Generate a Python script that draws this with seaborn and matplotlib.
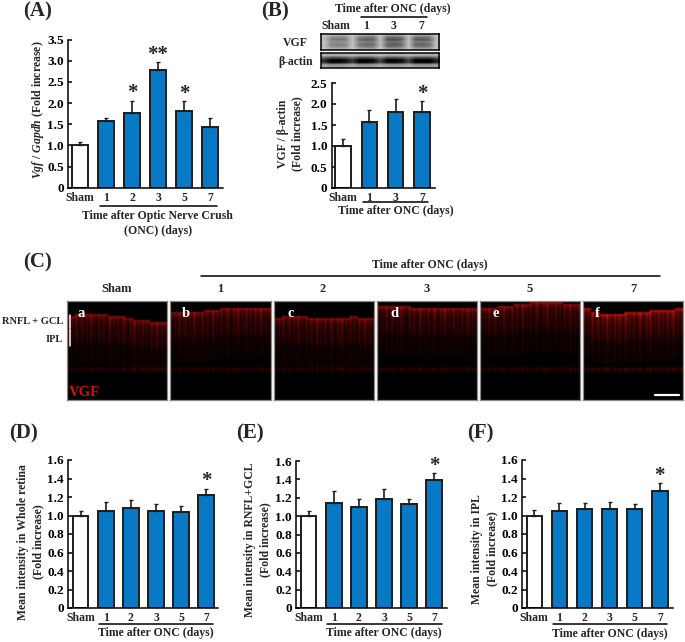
import numpy as np
import pandas as pd
import matplotlib
matplotlib.use('Agg')
import matplotlib.pyplot as plt
from matplotlib.colors import LinearSegmentedColormap
from matplotlib.lines import Line2D
import seaborn as sns

sns.set_style('white')
plt.rcParams['font.family'] = ['Liberation Serif', 'DejaVu Serif']
plt.rcParams['font.weight'] = 'bold'
plt.rcParams['mathtext.fontset'] = 'custom'
plt.rcParams['mathtext.rm'] = 'Liberation Serif:bold'
plt.rcParams['mathtext.it'] = 'Liberation Serif:italic:bold'

# bar values and top of the error bars
labels_a = ['Sham', '1', '2', '3', '5', '7']
values_a = [1.0, 1.57, 1.77, 2.78, 1.82, 1.44]
tops_a = [1.08, 1.66, 2.06, 2.97, 2.05, 1.65]
stars_a = ['', '', '*', '**', '*', '']

labels_b = ['Sham', '1', '3', '7']
values_b = [1.0, 1.56, 1.80, 1.80]
tops_b = [1.16, 1.85, 2.11, 2.07]
stars_b = ['', '', '', '*']

values_d = [1.0, 1.05, 1.08, 1.05, 1.04, 1.22]
tops_d = [1.05, 1.15, 1.17, 1.12, 1.10, 1.29]

values_e = [1.0, 1.14, 1.10, 1.19, 1.13, 1.39]
tops_e = [1.06, 1.27, 1.19, 1.29, 1.19, 1.47]

values_f = [1.0, 1.05, 1.065, 1.075, 1.065, 1.27]
tops_f = [1.06, 1.14, 1.14, 1.145, 1.125, 1.35]
stars_last = ['', '', '', '', '', '*']

ticks_ab = [0, 0.5, 1.0, 1.5, 2.0, 2.5, 3.0, 3.5]
ticks_def = [0, 0.2, 0.4, 0.6, 0.8, 1.0, 1.2, 1.4, 1.6]

# micrograph panels: surface height (px from panel top) along each section
panel_letters = ['a', 'b', 'c', 'd', 'e', 'f']
panel_titles = ['Sham', '1', '2', '3', '5', '7']
panel_gain = [0.95, 1.0, 0.95, 1.0, 1.0, 1.3]
surfaces = [
    [16, 14, 14, 14, 15, 16, 17, 18, 20, 21, 22, 23],
    [13, 12, 12, 12, 11, 10, 9, 8, 8, 9, 9, 8],
    [19, 17, 16, 17, 18, 19, 19, 18, 18, 17, 18, 19],
    [6, 7, 7, 6, 8, 9, 9, 9, 8, 9, 9, 8],
    [9, 8, 7, 6, 5, 4, 3, 3, 3, 3, 4, 4],
    [9, 13, 15, 15, 14, 13, 13, 12, 11, 11, 10, 9],
]
# red level by depth below the surface, 2 px per step
depth_profile = [0.62, 0.4, 0.3, 0.27, 0.24, 0.22, 0.2, 0.19, 0.18, 0.17,
                 0.16, 0.15, 0.14, 0.11, 0.08, 0.07, 0.07, 0.07, 0.06, 0.06,
                 0.06, 0.06, 0.05, 0.05, 0.05]
# faint band near the bottom of the retina, by row (2 px per row)
band_rows = [33, 34, 35, 36]
band_levels = [0.05, 0.17, 0.1, 0.02]
# vertical striations, one value per 2 px column
stripes = [1.3, 0.5, 1.1, 0.6, 1.6, 0.7, 0.9, 1.4, 0.5, 1.2, 0.6, 1.7,
           0.8, 1.0, 0.5, 1.5, 0.6, 1.3, 0.9, 0.5, 1.8, 0.7, 1.1, 0.6,
           1.4, 0.5, 1.0, 1.6, 0.7, 0.6, 1.3, 0.9, 1.7, 0.5, 1.1, 0.7,
           1.5, 0.6, 1.2, 0.5, 1.4, 0.8, 1.0, 1.6, 0.6, 1.2, 0.7, 1.1]

# western blot lanes
blot_vgf_lanes = [0.1, 0.5, 0.55, 0.5, 0.08, 0.6, 0.7, 0.65, 0.12, 0.75, 0.8, 0.7,
                  0.1, 0.7, 0.75, 0.65, 0.1]
blot_vgf_rows = [0.35, 0.8, 1.0, 0.7, 0.9, 0.75, 0.35]
blot_actin_lanes = [0.75, 1.0, 1.0, 0.9, 0.7, 1.0, 1.0, 0.9, 0.65, 0.95, 1.0, 0.9,
                    0.65, 1.0, 1.0, 1.0, 0.8]
blot_actin_rows = [0.12, 0.15, 0.6, 1.0, 0.95, 0.3, 0.2]

BLUE = '#0879C4'
DARK = '#1c1c1c'
W, H = 685, 642
FS = 8.5

fig = plt.figure(figsize=(W / 100, H / 100), dpi=100)


def px_axes(x0, x1, ytop, ybot, **kw):
    return fig.add_axes([x0 / W, 1 - ybot / H, (x1 - x0) / W, (ybot - ytop) / H], **kw)


def txt(x, y, s, size=FS, ha='center', va='center', **kw):
    fig.text(x / W, 1 - y / H, s, fontsize=size, ha=ha, va=va, fontweight='bold', **kw)


def hline(x0, x1, y, color='black', lw=1.1):
    fig.add_artist(Line2D([x0 / W, x1 / W], [1 - y / H, 1 - y / H], color=color, lw=lw))


def bar_panel(box, first, spacing, labels, values, tops, stars, ticks, ymax):
    x0, x1, ytop, ybot = box
    ax = px_axes(x0, x1, ytop, ybot)
    df = pd.DataFrame({'group': labels, 'value': values})
    colors = ['white'] + [BLUE] * (len(labels) - 1)
    sns.barplot(data=df, x='group', y='value', hue='group', order=labels, hue_order=labels,
                palette=colors, legend=False, errorbar=None, width=15.5 / spacing,
                edgecolor=DARK, linewidth=1.4, saturation=1, ax=ax)
    xs = np.arange(len(labels))
    ax.errorbar(xs, values, yerr=[np.zeros(len(xs)), np.array(tops) - np.array(values)],
                fmt='none', ecolor=DARK, elinewidth=1.2, capsize=1.5, capthick=1.0)
    # the bars sit at fixed pixels, so the x limits come from the first bar centre
    ax.set_xlim((x0 - first) / spacing, (x1 - first) / spacing)
    ax.set_ylim(0, ymax)
    ax.set_yticks(ticks)
    ax.set_yticklabels(['0' if t == 0 else f'{t:.1f}' for t in ticks], fontsize=9.5)
    ax.set_xticks(xs)
    ax.set_xticklabels(labels, fontsize=FS)
    ax.set_xlabel('')
    ax.set_ylabel('')
    ax.tick_params(axis='y', direction='in', length=3, width=1.1, pad=3, left=True, colors='black')
    ax.tick_params(axis='x', length=0, pad=3)
    ax.patch.set_alpha(0)
    sns.despine(ax=ax)
    for side in ['left', 'bottom']:
        ax.spines[side].set_color('black')
        ax.spines[side].set_linewidth(1.1)
    for i, s in enumerate(stars):
        if s:
            ax.annotate(s, xy=(i, tops[i]), xytext=(0, -2), textcoords='offset points',
                        ha='center', va='bottom', fontsize=15, fontweight='bold',
                        annotation_clip=False)
    return ax


# (A)
bar_panel((68, 223, 39.7, 187.7), 80, 26, labels_a, values_a, tops_a, stars_a, ticks_ab, 3.5)
txt(38, 11, '(A)', 15)
txt(38, 110, r'$\mathit{Vgf}$ / $\mathit{Gapdh}$ (Fold increase)', rotation=90)
hline(100, 217, 205.7)
txt(157, 216, 'Time after Optic Nerve Crush')
txt(158, 231, '(ONC) (days)')

# (B)
bar_panel((331.7, 435, 83, 188), 343, 26.3, labels_b, values_b, tops_b, stars_b, ticks_ab[:6], 2.5)
txt(275, 11, '(B)', 15)
txt(283, 134, 'VGF / β-actin', rotation=90)
txt(297, 134, '(Fold increase)', rotation=90)
hline(362.7, 428, 202)
txt(396, 211, 'Time after ONC (days)')

txt(393, 9, 'Time after ONC (days)')
hline(360.7, 426.7, 17)
for xp, s in zip([335.7, 365.7, 393.3, 421.7], labels_b):
    txt(xp, 26, s)
txt(308, 43, 'VGF', ha='right')
txt(313, 62, 'β-actin', ha='right')

vgf = 0.8 - 0.62 * np.outer(blot_vgf_rows, blot_vgf_lanes)
actin = 0.8 - 0.85 * np.outer(blot_actin_rows, blot_actin_lanes)
for img, (yt, yb) in [(vgf, (34, 50)), (actin, (52.7, 68.3))]:
    ax = px_axes(320.7, 439, yt, yb)
    ax.imshow(img, cmap='gray', vmin=0, vmax=1, aspect='auto', interpolation='bilinear')
    ax.set_xticks([])
    ax.set_yticks([])
    for sp in ax.spines.values():
        sp.set_color('black')
        sp.set_linewidth(1.1)
        sp.set_visible(True)

# (C)
txt(38, 262, '(C)', 15)
txt(430, 265, 'Time after ONC (days)')
hline(201, 660, 276)
red_map = LinearSegmentedColormap.from_list('vgf_red', ['#000000', '#e01010'])
panel_x = [(67, 166.7), (170.3, 270.7), (273.7, 374), (376.7, 477), (480, 580), (583.3, 683.3)]
title_x = [117, 220, 323, 427, 530, 633]
letter_x = [81, 186, 291, 394, 496, 597]
for k, (xa, xb) in enumerate(panel_x):
    img = np.zeros((50, len(stripes)))
    for c in range(len(stripes)):
        start = surfaces[k][c // 4] // 2
        for d, level in enumerate(depth_profile):
            if start + d < 50:
                # sharp surface layer, striations below it
                img[start + d, c] = level * (stripes[c] if d > 0 else 0.7 + 0.3 * stripes[c])
    for r, level in zip(band_rows, band_levels):
        img[r, :] += level * np.array(stripes)
    ax = px_axes(xa, xb, 300.7, 400)
    ax.imshow(img * panel_gain[k], cmap=red_map, vmin=0, vmax=1, aspect='auto',
              interpolation='bilinear')
    ax.set_xticks([])
    ax.set_yticks([])
    for sp in ax.spines.values():
        sp.set_color('#8a8a8a')
        sp.set_linewidth(0.9)
        sp.set_visible(True)
    txt(title_x[k], 289, panel_titles[k], 9)
    txt(letter_x[k], 314, panel_letters[k], 10.5, color='white', zorder=5)

txt(63, 322, 'RNFL + GCL', 7.5, ha='right')
txt(63, 339, 'IPL', 7.5, ha='right')
fig.add_artist(Line2D([70.3 / W] * 2, [1 - 315 / H, 1 - 328 / H], color='white', lw=1.1, zorder=6))
fig.add_artist(Line2D([70.3 / W] * 2, [1 - 329 / H, 1 - 346 / H], color='white', lw=1.1, zorder=6))
txt(69, 392, 'VGF', 10.5, ha='left', color='#d81010', zorder=6)
fig.add_artist(Line2D([655 / W, 679 / W], [1 - 395 / H] * 2, color='white', lw=1.6, zorder=6))

# (D)
bar_panel((68, 218, 460, 608), 80.7, 25.1, labels_a, values_d, tops_d, stars_last, ticks_def, 1.6)
txt(23, 433, '(D)', 15)
txt(23, 542, 'Mean intensity in Whole retina', rotation=90)
txt(38, 542, '(Fold increase)', rotation=90)
hline(99, 213, 624)
txt(156, 633, 'Time after ONC (days)')

# (E)
bar_panel((296, 447, 461, 608), 308.7, 25.1, labels_a, values_e, tops_e, stars_last, ticks_def, 1.6)
txt(250, 433, '(E)', 15)
txt(250, 540, 'Mean intensity in RNFL+GCL', rotation=90)
txt(265, 540, '(Fold increase)', rotation=90)
hline(327, 442, 624)
txt(384, 633, 'Time after ONC (days)')

# (F)
bar_panel((522, 673, 460, 608), 534.3, 25.1, labels_a, values_f, tops_f, stars_last, ticks_def, 1.6)
txt(480, 433, '(F)', 15)
txt(477, 549, 'Mean intensity in IPL', rotation=90)
txt(492, 549, '(Fold increase)', rotation=90)
hline(553, 667, 624)
txt(610, 634, 'Time after ONC (days)')

fig.savefig('out.png', dpi=100)
